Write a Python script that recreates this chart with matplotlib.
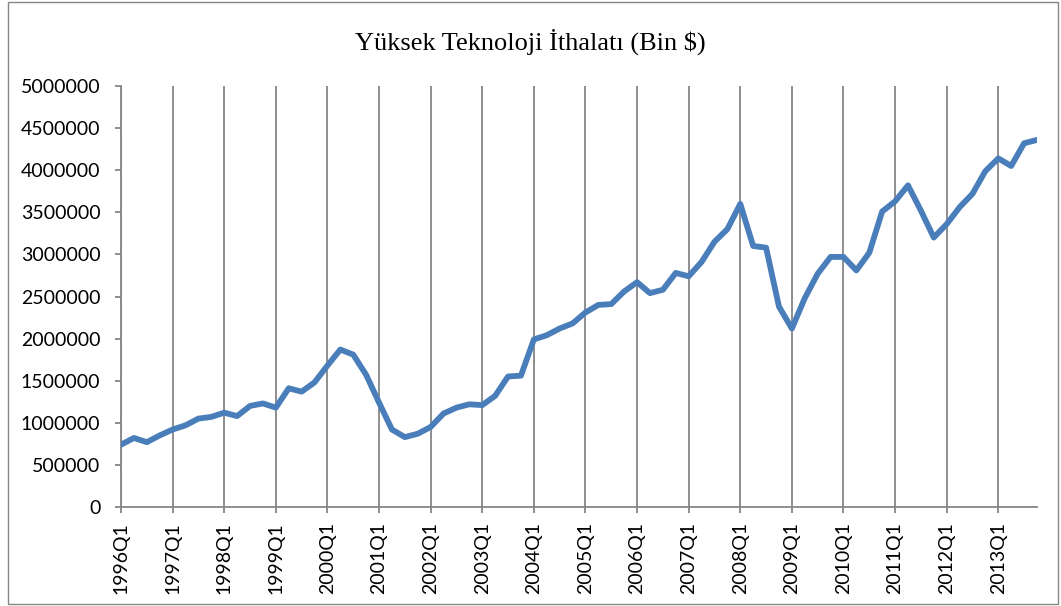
import matplotlib
matplotlib.use('Agg')
import matplotlib.pyplot as plt
from matplotlib.patches import Rectangle

years = list(range(1996, 2014))
quarters = [f'{y}Q{q}' for y in years for q in range(1, 5)]

# Bin $, quarterly values
values = [
    740000, 820000, 770000, 850000,
    920000, 970000, 1050000, 1070000,
    1120000, 1080000, 1200000, 1230000,
    1180000, 1410000, 1370000, 1480000,
    1680000, 1870000, 1810000, 1570000,
    1240000, 920000, 830000, 870000,
    950000, 1110000, 1180000, 1220000,
    1210000, 1320000, 1550000, 1560000,
    1990000, 2040000, 2120000, 2180000,
    2310000, 2400000, 2410000, 2560000,
    2670000, 2540000, 2580000, 2780000,
    2740000, 2910000, 3150000, 3300000,
    3600000, 3100000, 3080000, 2380000,
    2120000, 2480000, 2770000, 2970000,
    2970000, 2810000, 3020000, 3510000,
    3630000, 3820000, 3520000, 3200000,
    3360000, 3560000, 3720000, 3990000,
    4140000, 4050000, 4320000, 4360000,
]
yticks = list(range(0, 5000001, 500000))

fig = plt.figure(figsize=(10.61, 6.06), dpi=100)
ax = fig.add_axes([121/1061, 1 - 507/606, (1037-121)/1061, (507-86)/606])

x = list(range(len(quarters)))
ax.plot(x, values, color='#4A7EBB', lw=4.2, solid_joinstyle='round', zorder=3)

ax.set_xlim(0, len(quarters) - 1)
ax.set_ylim(0, 5000000)
ax.set_yticks(yticks)
ax.set_yticklabels([str(v) for v in yticks], fontsize=14, family='Lato')
ax.set_xticks(x[::4])
ax.set_xticklabels(quarters[::4], rotation=90, fontsize=14, family='Lato')
ax.grid(axis='x', color='#868686', lw=1.3)

for s in ['top', 'right']:
    ax.spines[s].set_visible(False)
for s in ['left', 'bottom']:
    ax.spines[s].set_color('#868686')
    ax.spines[s].set_linewidth(1.3)
ax.tick_params(axis='both', color='#868686', width=1.3, length=4.3)
ax.tick_params(axis='y', pad=10.5)
ax.tick_params(axis='x', pad=6.5)

fig.text(0.5, 1 - 42/606, 'Yüksek Teknoloji İthalatı (Bin $)', ha='center', va='center',
         fontsize=19, family='Liberation Serif')

fig.patches.append(Rectangle((8/1061, 2/606), 1 - 11/1061, 1 - 4/606, transform=fig.transFigure,
                             fill=False, edgecolor='#868686', lw=1))

fig.savefig('out.png', dpi=100)
